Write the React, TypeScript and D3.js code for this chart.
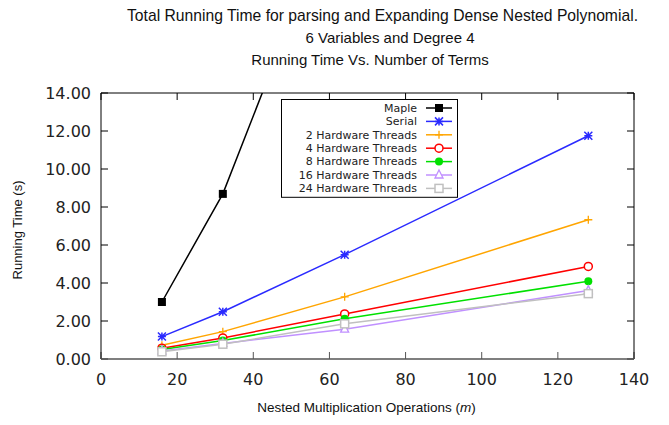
import * as d3 from "d3";

const W = 669;
const H = 425;
const margin = { top: 93, right: 35, bottom: 66, left: 101 };

const ops = [16, 32, 64, 128];
const mapleTimes = [3.0, 8.69, 25.1];
const serialTimes = [1.18, 2.49, 5.49, 11.75];
const hw2Times = [0.72, 1.44, 3.27, 7.33];
const hw4Times = [0.57, 1.11, 2.37, 4.87];
const hw8Times = [0.5, 0.97, 2.12, 4.09];
const hw16Times = [0.42, 0.82, 1.57, 3.6];
const hw24Times = [0.38, 0.78, 1.85, 3.44];

const xTicks = [0, 20, 40, 60, 80, 100, 120, 140];
const yTicks = [0, 2, 4, 6, 8, 10, 12, 14];

const series = [
	{ name: "Maple", values: mapleTimes, color: "#000000", marker: "fsquare" },
	{ name: "Serial", values: serialTimes, color: "#2a2aff", marker: "star" },
	{ name: "2 Hardware Threads", values: hw2Times, color: "#ffa500", marker: "plus" },
	{ name: "4 Hardware Threads", values: hw4Times, color: "#ff0000", marker: "ocircle" },
	{ name: "8 Hardware Threads", values: hw8Times, color: "#00e000", marker: "fcircle" },
	{ name: "16 Hardware Threads", values: hw16Times, color: "#c090ff", marker: "otriangle" },
	{ name: "24 Hardware Threads", values: hw24Times, color: "#c0c0c0", marker: "osquare" }
];

const Marker = ({ kind, x, y, color }: { kind: string; x: number; y: number; color: string }) => {
	const s = 4;
	switch (kind) {
		case "fsquare":
			return <rect x={x - s} y={y - s} width={2 * s} height={2 * s} fill={color} />;
		case "osquare":
			return <rect x={x - s} y={y - s} width={2 * s} height={2 * s} fill="white" stroke={color} strokeWidth={1.5} />;
		case "star":
			return (
				<path
					d={`M${x - s},${y}H${x + s}M${x},${y - s}V${y + s}M${x - s},${y - s}L${x + s},${y + s}M${x - s},${y + s}L${x + s},${y - s}`}
					stroke={color}
					strokeWidth={1.5}
				/>
			);
		case "plus":
			return <path d={`M${x - s},${y}H${x + s}M${x},${y - s}V${y + s}`} stroke={color} strokeWidth={1.3} />;
		case "ocircle":
			return <circle cx={x} cy={y} r={s} fill="white" stroke={color} strokeWidth={1.5} />;
		case "fcircle":
			return <circle cx={x} cy={y} r={s} fill={color} />;
		case "otriangle":
			return (
				<path d={`M${x},${y - s - 1}L${x + s},${y + s - 1}L${x - s},${y + s - 1}Z`} fill="white" stroke={color} strokeWidth={1.3} />
			);
		default:
			return null;
	}
};

export default function App() {
	const x = d3.scaleLinear().domain([0, 140]).range([margin.left, W - margin.right]);
	const y = d3.scaleLinear().domain([0, 14]).range([H - margin.bottom, margin.top]);
	const line = d3
		.line<number>()
		.x((d, i) => x(ops[i]))
		.y((d) => y(d));

	const x0 = x(0);
	const x1 = x(140);
	const y0 = y(0);
	const y1 = y(14);
	const tick = 7;

	const legendRight = 417;
	const legendTop = 101;
	const rowH = 13.4;

	return (
		<svg width={W} height={H} style={{ position: "absolute", left: 0, top: 0, background: "white" }}>
			<defs>
				<clipPath id="plot">
					<rect x={x0} y={y1} width={x1 - x0} height={y0 - y1} />
				</clipPath>
			</defs>
			<g fontFamily="Liberation Sans, Arial, sans-serif" textAnchor="middle" fill="#111">
				<text x={382.5} y={21} fontSize={15.7}>Total Running Time for parsing and Expanding Dense Nested Polynomial.</text>
				<text x={390} y={43} fontSize={15}>6 Variables and Degree 4</text>
				<text x={370} y={65} fontSize={15}>Running Time Vs. Number of Terms</text>
			</g>

			{/* y ticks, left and right */}
			{yTicks.map((t) => (
				<g key={"y" + t}>
					<line x1={x0} x2={x0 + tick} y1={y(t)} y2={y(t)} stroke="#000" />
					<line x1={x1} x2={x1 - tick} y1={y(t)} y2={y(t)} stroke="#000" />
					<text
						x={x0 - 10}
						y={y(t)}
						dy="0.36em"
						textAnchor="end"
						fontFamily="DejaVu Sans, sans-serif"
						fontSize={16}
						fill="#222"
					>
						{t.toFixed(2)}
					</text>
				</g>
			))}
			{xTicks.map((t) => (
				<g key={"x" + t}>
					<line x1={x(t)} x2={x(t)} y1={y0} y2={y0 - tick} stroke="#555" />
					<line x1={x(t)} x2={x(t)} y1={y1} y2={y1 + tick} stroke="#000" />
					<text x={x(t)} y={y0 + 26} textAnchor="middle" fontFamily="DejaVu Sans, sans-serif" fontSize={16} fill="#222">
						{t}
					</text>
				</g>
			))}

			<g clipPath="url(#plot)">
				{series.map((s) => (
					<g key={s.name}>
						<path d={line(s.values) ?? ""} fill="none" stroke={s.color} strokeWidth={1.5} />
						{s.values.map((v, i) => (
							<Marker key={i} kind={s.marker} x={x(ops[i])} y={y(v)} color={s.color} />
						))}
					</g>
				))}
			</g>

			{/* frame */}
			<line x1={x0} x2={x1} y1={y1} y2={y1} stroke="#000" />
			<line x1={x1} x2={x1} y1={y1} y2={y0} stroke="#000" />
			<line x1={x0} x2={x0} y1={y1} y2={y0} stroke="#000" />
			<line x1={x0} x2={x1} y1={y0} y2={y0} stroke="#555" strokeWidth={1.5} />

			{/* legend */}
			<rect x={281.5} y={legendTop - 1.5} width={176} height={rowH * 7 + 4} fill="white" stroke="#000" />
			{series.map((s, i) => {
				const ly = legendTop + 7 + i * rowH;
				return (
					<g key={"lg" + s.name}>
						<text x={legendRight} y={ly} dy="0.35em" textAnchor="end" fontFamily="DejaVu Sans, sans-serif" fontSize={11} fill="#222">
							{s.name}
						</text>
						<line x1={426} x2={452} y1={ly} y2={ly} stroke={s.color} strokeWidth={1.5} />
						<Marker kind={s.marker} x={439} y={ly} color={s.color} />
					</g>
				);
			})}

			<text
				transform={`translate(22, ${(y0 + y1) / 2 + 4}) rotate(-90)`}
				textAnchor="middle"
				fontFamily="Liberation Sans, Arial, sans-serif"
				fontSize={13}
				fill="#111"
			>
				Running Time (s)
			</text>
			<text x={366.5} y={412} textAnchor="middle" fontFamily="Liberation Sans, Arial, sans-serif" fontSize={13.5} fill="#111">
				Nested Multiplication Operations (<tspan fontStyle="italic">m</tspan>)
			</text>
		</svg>
	);
}
